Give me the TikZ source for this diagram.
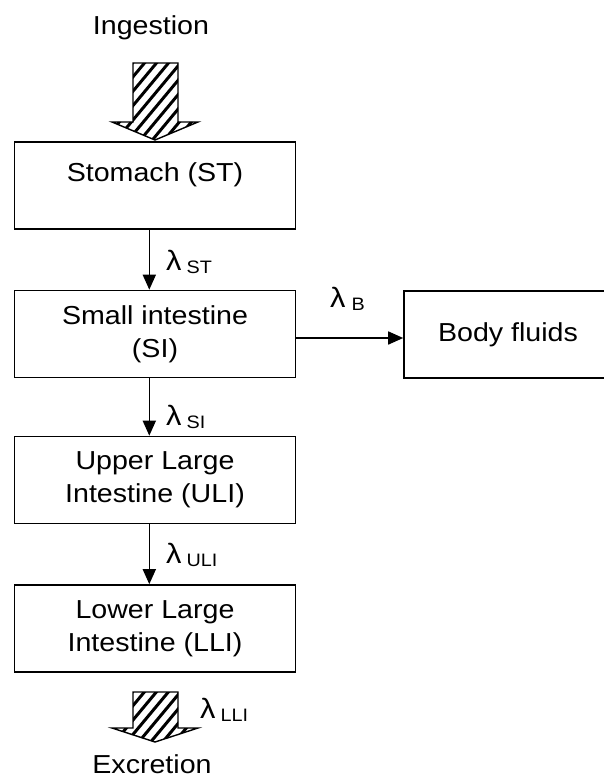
\documentclass[tikz,border=0pt]{standalone}
\usepackage{fontspec}
\setmainfont{Liberation Sans}[FakeStretch=1.1]
\usetikzlibrary{arrows.meta}
\newcommand{\lamlab}[2]{{\fontsize{28}{28}\selectfont λ}\hspace{#2}\raisebox{-3pt}{\fontsize{18}{18}\selectfont #1}}
\begin{document}
\begin{tikzpicture}[x=1pt,y=-1pt,
  box/.style={draw,line width=1.6pt,rectangle,minimum width=281pt,minimum height=87pt,
              align=center,inner sep=0pt,font=\fontsize{26}{33}\selectfont},
  flow/.style={line width=1.6pt,-{Triangle[length=15pt,width=13pt]}},
  lab/.style={anchor=base west,inner sep=0pt},
  txt/.style={anchor=base,inner sep=0pt,font=\fontsize{26}{33}\selectfont},
  hatchline/.style={line width=3pt}
]
\useasboundingbox (0,0) rectangle (603,778);
\fill[white] (0,0) rectangle (603,778);

% boxes
\node[box] (st) at (155,185.5) {Stomach (ST)\\[-16pt]\strut};
\node[box] (si) at (155,334) {Small intestine\\(SI)};
\node[box] (uli) at (155,480) {Upper Large\\Intestine (ULI)};
\node[box] (lli) at (155,628.5) {Lower Large\\Intestine (LLI)};
\node[box,minimum width=208pt] (bf) at (508,334.5) {Body fluids};

% texts
\node[txt] (ing) at (151,35) {Ingestion};
\node[txt] (exc) at (152,773) {Excretion};

% connectors
\draw[flow] ([xshift=-5.7pt]st.south) -- ([xshift=-5.7pt]si.north);
\draw[flow] ([xshift=-5.7pt]si.south) -- ([xshift=-5.7pt]uli.north);
\draw[flow] ([xshift=-5.7pt]uli.south) -- ([xshift=-5.7pt]lli.north);
\draw[flow] ([yshift=-4pt]si.east) -- ([yshift=-3.5pt]bf.west);

% labels
\node[lab] (lst) at (166,270) {\lamlab{ST}{5pt}};
\node[lab] (lsi) at (166,425) {\lamlab{SI}{5pt}};
\node[lab] (luli) at (166,563) {\lamlab{ULI}{5pt}};
\node[lab] (lb) at (330,307) {\lamlab{B}{6pt}};
\node[lab] (llli) at (200,718) {\lamlab{LLI}{5pt}};

% hatched arrows
\def\inarrow{(133,63) -- (178,63) -- (178,122) -- (198,122) -- (155,140) -- (112,122) -- (133,122) -- cycle}
\def\exarrow{(133,692) -- (178,692) -- (178,728) -- (198,728) -- (155,742) -- (112,728) -- (133,728) -- cycle}
\fill[white] \inarrow;
\begin{scope}
  \clip \inarrow;
  \foreach \i in {0,...,14} \draw[hatchline] (60+\i*12,150) -- ++(80,-96);
\end{scope}
\draw[line width=1.4pt,line join=miter] \inarrow;
\fill[white] \exarrow;
\begin{scope}
  \clip \exarrow;
  \foreach \i in {0,...,14} \draw[hatchline] (60+\i*12,750) -- ++(60,-72);
\end{scope}
\draw[line width=1.4pt,line join=miter] \exarrow;
\end{tikzpicture}
\end{document}
